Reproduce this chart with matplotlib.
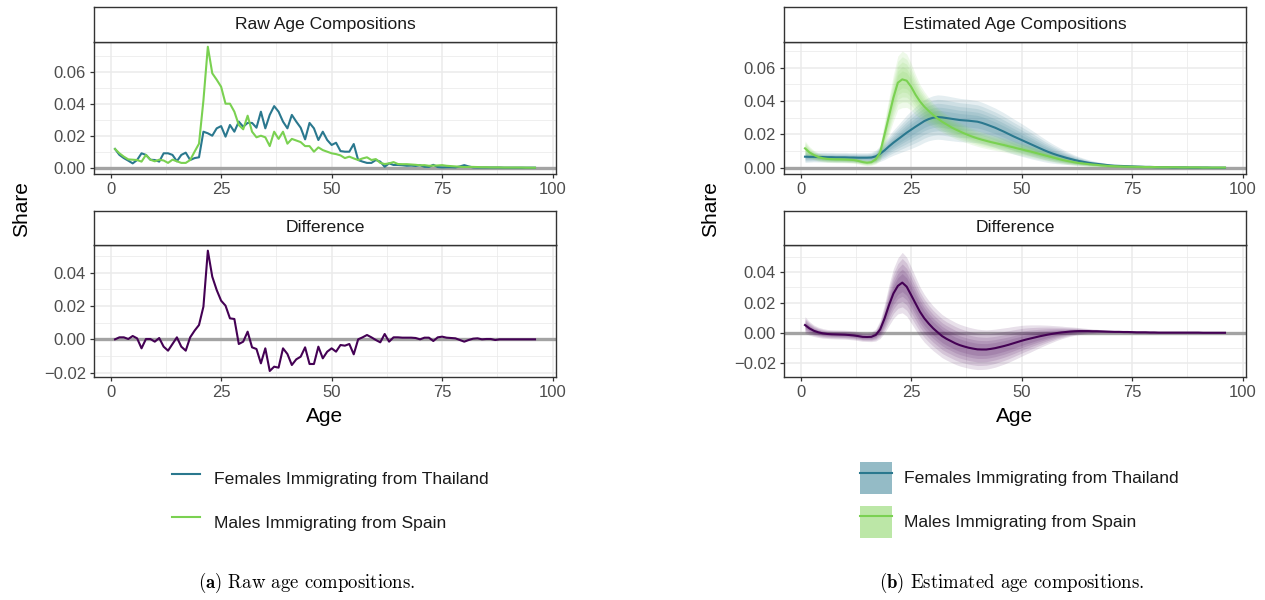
import matplotlib
matplotlib.use("Agg")
import matplotlib.pyplot as plt
from matplotlib.lines import Line2D
from matplotlib.patches import Patch
from matplotlib.colors import to_rgba
import numpy as np

plt.rcParams['font.family'] = ['Liberation Sans', 'DejaVu Sans']
plt.rcParams['mathtext.fontset'] = 'cm'

# ---------------- data ----------------
ages = list(range(1, 97))

raw_spain = [
    0.0117, 0.0090, 0.0069, 0.0052, 0.0050, 0.0048, 0.0038, 0.0080, 0.0050, 0.0040,
    0.0050, 0.0045, 0.0030, 0.0050, 0.0040, 0.0030, 0.0030, 0.0048, 0.0100, 0.0150,
    0.0420, 0.0756, 0.0590, 0.0550, 0.0506, 0.0400, 0.0400, 0.0350, 0.0267, 0.0240,
    0.0325, 0.0225, 0.0190, 0.0200, 0.0190, 0.0135, 0.0225, 0.0180, 0.0225, 0.0150,
    0.0180, 0.0170, 0.0160, 0.0135, 0.0135, 0.0100, 0.0127, 0.0110, 0.0100, 0.0090,
    0.0085, 0.0077, 0.0060, 0.0069, 0.0058, 0.0048, 0.0058, 0.0065, 0.0048, 0.0054,
    0.0030, 0.0023, 0.0027, 0.0035, 0.0023, 0.0022, 0.0022, 0.0020, 0.0018, 0.0015,
    0.0016, 0.0012, 0.0013, 0.0014, 0.0016, 0.0012, 0.0010, 0.0008, 0.0006, 0.0004,
    0.0005, 0.0005, 0.0004, 0.0003, 0.0003, 0.0002, 0.0002, 0.0002, 0.0001, 0.0001,
    0.0001, 0.0001, 0.0001, 0.0000, 0.0000, 0.0000]

raw_thailand = [
    0.0117, 0.0080, 0.0060, 0.0044, 0.0027, 0.0048, 0.0090, 0.0080, 0.0050, 0.0048,
    0.0038, 0.0090, 0.0090, 0.0080, 0.0040, 0.0080, 0.0094, 0.0048, 0.0060, 0.0065,
    0.0225, 0.0215, 0.0200, 0.0246, 0.0260, 0.0194, 0.0267, 0.0225, 0.0288, 0.0256,
    0.0280, 0.0280, 0.0250, 0.0350, 0.0246, 0.0330, 0.0385, 0.0350, 0.0288, 0.0246,
    0.0330, 0.0288, 0.0250, 0.0177, 0.0280, 0.0246, 0.0173, 0.0225, 0.0173, 0.0142,
    0.0156, 0.0104, 0.0100, 0.0100, 0.0148, 0.0048, 0.0038, 0.0030, 0.0030, 0.0048,
    0.0038, 0.0006, 0.0027, 0.0017, 0.0017, 0.0015, 0.0012, 0.0013, 0.0011, 0.0015,
    0.0006, 0.0005, 0.0018, 0.0004, 0.0002, 0.0003, 0.0003, 0.0002, 0.0008, 0.0016,
    0.0008, 0.0002, 0.0001, 0.0001, 0.0001, 0.0001, 0.0001, 0.0001, 0.0000, 0.0000,
    0.0000, 0.0000, 0.0000, 0.0000, 0.0000, 0.0000]

raw_diff = [
    0.0000, 0.0012, 0.0012, 0.0002, 0.0020, 0.0006, -0.0054, 0.0002, 0.0002, -0.0014,
    0.0008, -0.0044, -0.0068, -0.0028, 0.0012, -0.0044, -0.0068, 0.0012, 0.0052, 0.0086,
    0.0196, 0.0532, 0.0376, 0.0296, 0.0232, 0.0202, 0.0126, 0.0122, -0.0028, -0.0014,
    0.0046, -0.0048, -0.0058, -0.0144, -0.0054, -0.0190, -0.0164, -0.0170, -0.0054, -0.0088,
    -0.0154, -0.0120, -0.0104, -0.0048, -0.0148, -0.0148, -0.0044, -0.0114, -0.0074, -0.0054,
    -0.0074, -0.0034, -0.0038, -0.0028, -0.0090, 0.0000, 0.0012, 0.0026, 0.0012, -0.0004,
    -0.0018, 0.0032, -0.0014, 0.0012, 0.0012, 0.0010, 0.0010, 0.0010, 0.0008, 0.0000,
    0.0010, 0.0010, -0.0010, 0.0012, 0.0016, 0.0010, 0.0008, 0.0006, -0.0004, -0.0014,
    -0.0004, 0.0004, 0.0006, 0.0000, 0.0002, 0.0002, -0.0004, 0.0000, 0.0000, 0.0000,
    0.0000, 0.0000, 0.0000, 0.0000, 0.0000, 0.0000]

est_spain = [
    0.0116, 0.0092, 0.0076, 0.0064, 0.0057, 0.0053, 0.0051, 0.0050, 0.0050, 0.0049,
    0.0048, 0.0046, 0.0041, 0.0034, 0.0030, 0.0033, 0.0050, 0.0092, 0.0200, 0.0310,
    0.0420, 0.0510, 0.0530, 0.0522, 0.0486, 0.0438, 0.0398, 0.0366, 0.0340, 0.0316,
    0.0295, 0.0276, 0.0260, 0.0244, 0.0230, 0.0218, 0.0206, 0.0195, 0.0185, 0.0176,
    0.0168, 0.0161, 0.0154, 0.0148, 0.0142, 0.0136, 0.0129, 0.0123, 0.0116, 0.0110,
    0.0103, 0.0097, 0.0090, 0.0083, 0.0076, 0.0069, 0.0062, 0.0055, 0.0048, 0.0042,
    0.0037, 0.0032, 0.0028, 0.0025, 0.0022, 0.0019, 0.0017, 0.0014, 0.0012, 0.0010,
    0.0009, 0.0008, 0.0007, 0.0006, 0.0006, 0.0005, 0.0005, 0.0004, 0.0004, 0.0004,
    0.0003, 0.0003, 0.0003, 0.0003, 0.0003, 0.0002, 0.0002, 0.0002, 0.0002, 0.0002,
    0.0001, 0.0001, 0.0001, 0.0001, 0.0001, 0.0001]

est_thailand = [
    0.0066, 0.0065, 0.0065, 0.0064, 0.0064, 0.0063, 0.0063, 0.0062, 0.0062, 0.0062,
    0.0061, 0.0061, 0.0060, 0.0060, 0.0060, 0.0061, 0.0068, 0.0084, 0.0104, 0.0128,
    0.0150, 0.0170, 0.0190, 0.0210, 0.0228, 0.0246, 0.0263, 0.0280, 0.0292, 0.0300,
    0.0304, 0.0302, 0.0298, 0.0294, 0.0290, 0.0286, 0.0284, 0.0282, 0.0279, 0.0276,
    0.0269, 0.0260, 0.0250, 0.0240, 0.0228, 0.0216, 0.0203, 0.0190, 0.0178, 0.0166,
    0.0154, 0.0142, 0.0130, 0.0118, 0.0106, 0.0095, 0.0085, 0.0076, 0.0068, 0.0060,
    0.0053, 0.0046, 0.0040, 0.0035, 0.0030, 0.0026, 0.0023, 0.0020, 0.0017, 0.0014,
    0.0012, 0.0011, 0.0010, 0.0009, 0.0008, 0.0007, 0.0006, 0.0005, 0.0005, 0.0004,
    0.0003, 0.0003, 0.0003, 0.0002, 0.0002, 0.0002, 0.0002, 0.0001, 0.0001, 0.0001,
    0.0001, 0.0001, 0.0000, 0.0000, 0.0000, 0.0000]

est_diff = [
    0.0051, 0.0029, 0.0013, 0.0003, -0.0004, -0.0008, -0.0010, -0.0011, -0.0012, -0.0013,
    -0.0015, -0.0018, -0.0022, -0.0027, -0.0028, -0.0027, -0.0015, 0.0022, 0.0095, 0.0183,
    0.0260, 0.0310, 0.0332, 0.0305, 0.0250, 0.0194, 0.0139, 0.0095, 0.0060, 0.0029,
    0.0003, -0.0022, -0.0040, -0.0055, -0.0070, -0.0082, -0.0091, -0.0099, -0.0105, -0.0110,
    -0.0111, -0.0111, -0.0107, -0.0102, -0.0095, -0.0088, -0.0080, -0.0071, -0.0062, -0.0053,
    -0.0045, -0.0038, -0.0031, -0.0024, -0.0018, -0.0012, -0.0007, -0.0002, 0.0002, 0.0005,
    0.0008, 0.0010, 0.0011, 0.0011, 0.0011, 0.0010, 0.0010, 0.0009, 0.0008, 0.0007,
    0.0006, 0.0006, 0.0005, 0.0005, 0.0004, 0.0003, 0.0003, 0.0003, 0.0002, 0.0002,
    0.0001, 0.0001, 0.0001, 0.0001, 0.0001, 0.0001, 0.0001, 0.0001, 0.0001, 0.0001,
    0.0000, 0.0000, 0.0000, 0.0000, 0.0000, 0.0000]

# half-widths of the widest uncertainty interval
hw_spain = [
    0.0045, 0.0035, 0.0028, 0.0024, 0.0022, 0.0021, 0.0020, 0.0020, 0.0020, 0.0020,
    0.0020, 0.0020, 0.0019, 0.0018, 0.0018, 0.0019, 0.0028, 0.0050, 0.0080, 0.0110,
    0.0140, 0.0160, 0.0170, 0.0160, 0.0140, 0.0120, 0.0100, 0.0090, 0.0080, 0.0070,
    0.0065, 0.0062, 0.0060, 0.0058, 0.0056, 0.0054, 0.0052, 0.0050, 0.0049, 0.0048,
    0.0047, 0.0046, 0.0045, 0.0044, 0.0043, 0.0042, 0.0041, 0.0040, 0.0039, 0.0038,
    0.0037, 0.0036, 0.0035, 0.0034, 0.0032, 0.0030, 0.0028, 0.0026, 0.0024, 0.0022,
    0.0020, 0.0018, 0.0016, 0.0015, 0.0014, 0.0013, 0.0012, 0.0011, 0.0010, 0.0009,
    0.0008, 0.0008, 0.0008, 0.0008, 0.0008, 0.0008, 0.0008, 0.0008, 0.0008, 0.0008,
    0.0006, 0.0006, 0.0006, 0.0006, 0.0006, 0.0006, 0.0006, 0.0006, 0.0006, 0.0006,
    0.0005, 0.0005, 0.0005, 0.0005, 0.0005, 0.0005]

hw_thailand = [
    0.0035, 0.0032, 0.0030, 0.0030, 0.0030, 0.0030, 0.0030, 0.0030, 0.0030, 0.0030,
    0.0030, 0.0030, 0.0030, 0.0030, 0.0030, 0.0032, 0.0038, 0.0046, 0.0055, 0.0065,
    0.0075, 0.0085, 0.0095, 0.0105, 0.0113, 0.0120, 0.0125, 0.0128, 0.0130, 0.0132,
    0.0133, 0.0133, 0.0133, 0.0132, 0.0131, 0.0130, 0.0129, 0.0128, 0.0127, 0.0126,
    0.0124, 0.0122, 0.0120, 0.0118, 0.0116, 0.0113, 0.0110, 0.0106, 0.0102, 0.0098,
    0.0093, 0.0088, 0.0082, 0.0076, 0.0070, 0.0064, 0.0058, 0.0052, 0.0046, 0.0040,
    0.0035, 0.0030, 0.0026, 0.0022, 0.0019, 0.0016, 0.0014, 0.0012, 0.0010, 0.0009,
    0.0008, 0.0008, 0.0008, 0.0008, 0.0008, 0.0008, 0.0008, 0.0008, 0.0008, 0.0008,
    0.0006, 0.0006, 0.0006, 0.0006, 0.0006, 0.0006, 0.0006, 0.0006, 0.0006, 0.0006,
    0.0005, 0.0005, 0.0005, 0.0005, 0.0005, 0.0005]

hw_diff = [
    0.0055, 0.0045, 0.0038, 0.0034, 0.0032, 0.0030, 0.0030, 0.0030, 0.0030, 0.0030,
    0.0030, 0.0030, 0.0030, 0.0030, 0.0030, 0.0032, 0.0040, 0.0060, 0.0095, 0.0135,
    0.0165, 0.0185, 0.0200, 0.0195, 0.0185, 0.0175, 0.0165, 0.0158, 0.0152, 0.0148,
    0.0145, 0.0143, 0.0141, 0.0140, 0.0139, 0.0138, 0.0137, 0.0136, 0.0135, 0.0134,
    0.0132, 0.0130, 0.0128, 0.0126, 0.0123, 0.0120, 0.0116, 0.0112, 0.0107, 0.0102,
    0.0096, 0.0090, 0.0083, 0.0076, 0.0069, 0.0062, 0.0055, 0.0048, 0.0042, 0.0036,
    0.0031, 0.0027, 0.0023, 0.0020, 0.0017, 0.0015, 0.0013, 0.0011, 0.0010, 0.0009,
    0.0008, 0.0008, 0.0008, 0.0008, 0.0008, 0.0008, 0.0008, 0.0008, 0.0008, 0.0008,
    0.0006, 0.0006, 0.0006, 0.0006, 0.0006, 0.0006, 0.0006, 0.0006, 0.0006, 0.0006,
    0.0005, 0.0005, 0.0005, 0.0005, 0.0005, 0.0005]

series_labels = ["Females Immigrating from Thailand", "Males Immigrating from Spain"]
panel_titles = ["Raw Age Compositions", "Difference", "Estimated Age Compositions", "Difference"]
captions = [r"$\mathbf{(a)}$ Raw age compositions.", r"$\mathbf{(b)}$ Estimated age compositions."]
x_ticks = [0, 25, 50, 75, 100]
y_ticks_top = [0.00, 0.02, 0.04, 0.06]
y_ticks_bottom = [-0.02, 0.00, 0.02, 0.04]

# ---------------- style ----------------
C_TH = "#2A788E"
C_SP = "#7AD151"
C_DF = "#440154"
BAND_LEVELS = [1.0, 0.8, 0.62, 0.45, 0.3]
BAND_ALPHA = 0.12

FW, FH = 1265, 600
fig = plt.figure(figsize=(FW / 100, FH / 100), dpi=100)


def px_axes(x0, y0, x1, y1):
    return fig.add_axes([x0 / FW, 1 - y1 / FH, (x1 - x0) / FW, (y1 - y0) / FH])


def fmt(v):
    s = f"{v:.2f}"
    if s.startswith("-"):
        s = "\u2212" + s[1:]
    return s


def style_panel(ax, ylim, yticks):
    ax.set_xlim(-3.75, 100.75)
    ax.set_ylim(*ylim)
    ax.set_xticks(x_ticks)
    ax.set_xticks([12.5, 37.5, 62.5, 87.5], minor=True)
    ax.set_yticks(yticks)
    step = yticks[1] - yticks[0]
    minors = [t + step / 2 for t in [yticks[0] - step] + list(yticks)]
    minors = [m for m in minors if ylim[0] <= m <= ylim[1]]
    ax.set_yticks(minors, minor=True)
    ax.set_yticklabels([fmt(v) for v in yticks])
    ax.set_xticklabels([str(v) for v in x_ticks])
    ax.grid(which="major", color="#EBEBEB", lw=1.1)
    ax.grid(which="minor", color="#EBEBEB", lw=0.55)
    ax.set_axisbelow(True)
    for s in ax.spines.values():
        s.set_color("#333333")
        s.set_linewidth(1.0)
    ax.tick_params(which="major", length=3.2, width=0.9, color="#333333",
                   labelsize=12, labelcolor="#4D4D4D", pad=2.5)
    ax.tick_params(which="minor", length=0)
    ax.axhline(0, color="#A3A3A3", lw=2.4, zorder=1.5)


def strip(x0, y0, x1, y1, title):
    sa = px_axes(x0, y0, x1, y1)
    sa.set_xticks([])
    sa.set_yticks([])
    sa.set_facecolor("white")
    for s in sa.spines.values():
        s.set_color("#333333")
        s.set_linewidth(1.0)
    sa.text(0.5, 0.5, title, ha="center", va="center", fontsize=12.6,
            color="#1A1A1A", transform=sa.transAxes)


def bands(ax, x, est, hw, color):
    est = np.asarray(est)
    hw = np.asarray(hw)
    for s in BAND_LEVELS:
        ax.fill_between(x, est - s * hw, est + s * hw, color=color,
                        alpha=BAND_ALPHA, lw=0, zorder=2)


LX0, LX1 = 94, 556
RX0, RX1 = 784, 1246
TOP = (7.3, 41.7, 173.7)
BOT = (210.7, 245, 377)

# --- raw panels ---
ax_tl = px_axes(LX0, TOP[1], LX1, TOP[2])
style_panel(ax_tl, (-0.00375, 0.07875), y_ticks_top)
ax_tl.plot(ages, raw_thailand, color=C_TH, lw=1.5, zorder=3)
ax_tl.plot(ages, raw_spain, color=C_SP, lw=1.5, zorder=3)
strip(LX0, TOP[0], LX1, TOP[1], panel_titles[0])

ax_bl = px_axes(LX0, BOT[1], LX1, BOT[2])
style_panel(ax_bl, (-0.0226, 0.0566), y_ticks_bottom)
ax_bl.plot(ages, raw_diff, color=C_DF, lw=1.5, zorder=3)
strip(LX0, BOT[0], LX1, BOT[1], panel_titles[1])

# --- estimated panels ---
ax_tr = px_axes(RX0, TOP[1], RX1, TOP[2])
style_panel(ax_tr, (-0.0036, 0.0756), y_ticks_top)
bands(ax_tr, ages, est_thailand, hw_thailand, C_TH)
bands(ax_tr, ages, est_spain, hw_spain, C_SP)
ax_tr.plot(ages, est_thailand, color=C_TH, lw=1.5, zorder=3)
ax_tr.plot(ages, est_spain, color=C_SP, lw=1.5, zorder=3)
strip(RX0, TOP[0], RX1, TOP[1], panel_titles[2])

ax_br = px_axes(RX0, BOT[1], RX1, BOT[2])
style_panel(ax_br, (-0.0293, 0.0581), y_ticks_bottom)
bands(ax_br, ages, est_diff, hw_diff, C_DF)
ax_br.plot(ages, est_diff, color=C_DF, lw=1.5, zorder=3)
strip(RX0, BOT[0], RX1, BOT[1], panel_titles[3])

# --- axis titles ---
for xc in (22, 711):
    fig.text(xc / FW, 1 - 209.5 / FH, "Share", rotation=90, ha="center",
             va="center", fontsize=15, color="black")
for xc in ((LX0 + LX1) / 2, (RX0 + RX1) / 2):
    fig.text(xc / FW, 1 - 417 / FH, "Age", ha="center", va="center",
             fontsize=15, color="black")

# --- legends ---
LEG_KW = dict(loc="upper left", frameon=False, fontsize=12.6,
              handleheight=2.44, labelspacing=0.66, borderpad=0,
              borderaxespad=0, labelcolor="#1A1A1A")
hl = [Line2D([], [], color=C_TH, lw=1.5), Line2D([], [], color=C_SP, lw=1.5)]
fig.legend(hl, series_labels, bbox_to_anchor=(172 / FW, 1 - 463 / FH),
           handlelength=1.6, handletextpad=0.8, **LEG_KW)

hr = [(Patch(facecolor=to_rgba(C_TH, 0.5), edgecolor="none"),
       Line2D([], [], color=C_TH, lw=1.5)),
      (Patch(facecolor=to_rgba(C_SP, 0.5), edgecolor="none"),
       Line2D([], [], color=C_SP, lw=1.5))]
fig.legend(hr, series_labels, bbox_to_anchor=(860 / FW, 1 - 462 / FH),
           handlelength=1.84, handletextpad=0.69, **LEG_KW)

# --- captions ---
fig.text(307 / FW, 1 - 583 / FH, captions[0], family="cmr10", fontsize=13.5,
         ha="center", va="center")
fig.text(1012 / FW, 1 - 583 / FH, captions[1], family="cmr10", fontsize=13.5,
         ha="center", va="center")

fig.savefig("out.png", dpi=100)
